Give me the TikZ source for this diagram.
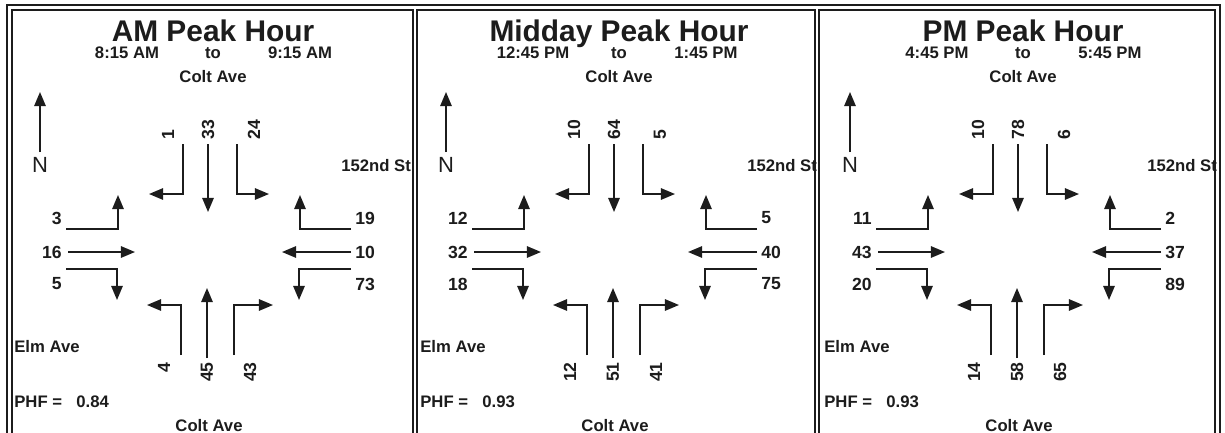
\documentclass[tikz,border=0pt]{standalone}
\usepackage{xcolor}
\usepackage{fontspec}
\setmainfont{Liberation Sans}
\usetikzlibrary{arrows.meta}
\definecolor{ink}{HTML}{1C1C1C}

\tikzset{
  ttl/.style={font=\fontsize{17}{17}\selectfont\bfseries, text=ink, anchor=base, inner sep=0pt},
  lbl/.style={font=\fontsize{9.5}{10}\selectfont\bfseries, text=ink, inner sep=0pt},
  num/.style={font=\fontsize{10}{10}\selectfont\bfseries, text=ink, inner sep=0pt},
  vnum/.style={num, rotate=90},
  northmark/.style={font=\fontsize{12.5}{12.5}\selectfont, text=ink, inner sep=0pt},
  mv/.style={draw=ink, line width=0.9pt, -{Triangle[length=8pt, width=6.5pt]}},
  frame/.style={draw=ink, line width=0.9pt},
}

% turning movement arrows, same in every panel
\newcommand\movearrows{%
  \draw[mv] (40,152) -- (40,92);
  % southbound
  \draw[mv] (183,144) |- (149,194);
  \draw[mv] (208,144) -- (208,212);
  \draw[mv] (237,144) |- (269,194);
  % eastbound
  \draw[mv] (66,229) -| (118,195);
  \draw[mv] (68,252) -- (135,252);
  \draw[mv] (66,269) -| (117,300);
  % westbound
  \draw[mv] (351,229) -| (300,195);
  \draw[mv] (351,252) -- (282,252);
  \draw[mv] (351,269) -| (299,300);
  % northbound
  \draw[mv] (181,355) |- (147,305);
  \draw[mv] (207,358) -- (207,288);
  \draw[mv] (234,355) |- (273,305);
}

\begin{document}
\begin{tikzpicture}[x=0.02cm, y=-0.02cm]
\useasboundingbox (0,0) rectangle (1225,433);
\clip (0,0) rectangle (1225,433);
\fill[white] (0,0) rectangle (1225,433);
\draw[frame] (7,5) rectangle (1220,445);
\draw[frame] (12,10) rectangle (413,440);
\draw[frame] (417,10) rectangle (815,440);
\draw[frame] (819,10) rectangle (1215,440);

%% AM
\begin{scope}
\movearrows
\node[ttl] (amTitle) at (213,41) {AM Peak Hour};
\node[lbl, anchor=base] (amFrom) at (127,58) {8:15 AM};
\node[lbl, anchor=base] (amTo) at (213,58) {to};
\node[lbl, anchor=base] (amUntil) at (300,58) {9:15 AM};
\node[lbl, anchor=base] (amColtN) at (213,82) {Colt Ave};
\node[northmark] (amN) at (40,165) {N};
\node[lbl, anchor=west] (amStreet) at (341,166) {152nd St};
\node[vnum, anchor=west] (amSBL) at (168,140) {1};
\node[vnum, anchor=west] (amSBT) at (208,140) {33};
\node[vnum, anchor=west] (amSBR) at (254,140) {24};
\node[num, anchor=east] (amEBL) at (62,218) {3};
\node[num, anchor=east] (amEBT) at (62,252) {16};
\node[num, anchor=east] (amEBR) at (62,284) {5};
\node[num, anchor=west] (amWBR) at (355,218) {19};
\node[num, anchor=west] (amWBT) at (355,252) {10};
\node[num, anchor=west] (amWBL) at (355,284) {73};
\node[vnum, anchor=east] (amNBL) at (164,362) {4};
\node[vnum, anchor=east] (amNBT) at (207,362) {45};
\node[vnum, anchor=east] (amNBR) at (250,362) {43};
\node[lbl, anchor=west] (amElm) at (14,347) {Elm Ave};
\node[lbl, anchor=west] (amPHF) at (14,402) {PHF =};
\node[lbl, anchor=west] (amPHFv) at (76,402) {0.84};
\node[lbl, anchor=base] (amColtS) at (209,431) {Colt Ave};
\end{scope}

%% Midday
\begin{scope}[shift={(406,0)}]
\movearrows
\node[ttl] (mdTitle) at (213,41) {Midday Peak Hour};
\node[lbl, anchor=base] (mdFrom) at (127,58) {12:45 PM};
\node[lbl, anchor=base] (mdTo) at (213,58) {to};
\node[lbl, anchor=base] (mdUntil) at (300,58) {1:45 PM};
\node[lbl, anchor=base] (mdColtN) at (213,82) {Colt Ave};
\node[northmark] (mdN) at (40,165) {N};
\node[lbl, anchor=west] (mdStreet) at (341,166) {152nd St};
\node[vnum, anchor=west] (mdSBL) at (168,140) {10};
\node[vnum, anchor=west] (mdSBT) at (208,140) {64};
\node[vnum, anchor=west] (mdSBR) at (254,140) {5};
\node[num, anchor=east] (mdEBL) at (62,218) {12};
\node[num, anchor=east] (mdEBT) at (62,252) {32};
\node[num, anchor=east] (mdEBR) at (62,284) {18};
\node[num, anchor=west] (mdWBR) at (355,218) {5};
\node[num, anchor=west] (mdWBT) at (355,252) {40};
\node[num, anchor=west] (mdWBL) at (355,284) {75};
\node[vnum, anchor=east] (mdNBL) at (164,362) {12};
\node[vnum, anchor=east] (mdNBT) at (207,362) {51};
\node[vnum, anchor=east] (mdNBR) at (250,362) {41};
\node[lbl, anchor=west] (mdElm) at (14,347) {Elm Ave};
\node[lbl, anchor=west] (mdPHF) at (14,402) {PHF =};
\node[lbl, anchor=west] (mdPHFv) at (76,402) {0.93};
\node[lbl, anchor=base] (mdColtS) at (209,431) {Colt Ave};
\end{scope}

%% PM
\begin{scope}[shift={(810,0)}]
\movearrows
\node[ttl] (pmTitle) at (213,41) {PM Peak Hour};
\node[lbl, anchor=base] (pmFrom) at (127,58) {4:45 PM};
\node[lbl, anchor=base] (pmTo) at (213,58) {to};
\node[lbl, anchor=base] (pmUntil) at (300,58) {5:45 PM};
\node[lbl, anchor=base] (pmColtN) at (213,82) {Colt Ave};
\node[northmark] (pmN) at (40,165) {N};
\node[lbl, anchor=west] (pmStreet) at (337,166) {152nd St};
\node[vnum, anchor=west] (pmSBL) at (168,140) {10};
\node[vnum, anchor=west] (pmSBT) at (208,140) {78};
\node[vnum, anchor=west] (pmSBR) at (254,140) {6};
\node[num, anchor=east] (pmEBL) at (62,218) {11};
\node[num, anchor=east] (pmEBT) at (62,252) {43};
\node[num, anchor=east] (pmEBR) at (62,284) {20};
\node[num, anchor=west] (pmWBR) at (355,218) {2};
\node[num, anchor=west] (pmWBT) at (355,252) {37};
\node[num, anchor=west] (pmWBL) at (355,284) {89};
\node[vnum, anchor=east] (pmNBL) at (164,362) {14};
\node[vnum, anchor=east] (pmNBT) at (207,362) {58};
\node[vnum, anchor=east] (pmNBR) at (250,362) {65};
\node[lbl, anchor=west] (pmElm) at (14,347) {Elm Ave};
\node[lbl, anchor=west] (pmPHF) at (14,402) {PHF =};
\node[lbl, anchor=west] (pmPHFv) at (76,402) {0.93};
\node[lbl, anchor=base] (pmColtS) at (209,431) {Colt Ave};
\end{scope}
\end{tikzpicture}
\end{document}
